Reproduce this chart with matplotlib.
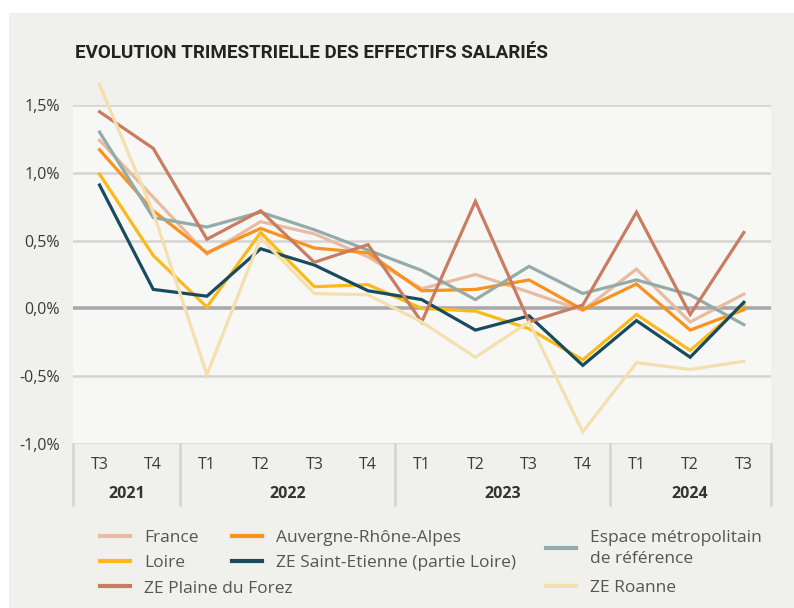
import matplotlib
matplotlib.use("Agg")
import matplotlib.pyplot as plt
from matplotlib.patches import Rectangle
from matplotlib.lines import Line2D

quarters = ["T3", "T4", "T1", "T2", "T3", "T4", "T1", "T2", "T3", "T4", "T1", "T2", "T3"]
years = ["2021", "2022", "2023", "2024"]
year_spans = [(0, 1), (2, 5), (6, 9), (10, 12)]

france = [1.24, 0.82, 0.40, 0.64, 0.55, 0.38, 0.145, 0.25, 0.12, -0.015, 0.29, -0.10, 0.105]
ara = [1.17, 0.72, 0.41, 0.59, 0.445, 0.41, 0.13, 0.14, 0.21, -0.01, 0.18, -0.16, -0.01]
espace = [1.30, 0.67, 0.60, 0.71, 0.58, 0.43, 0.28, 0.065, 0.31, 0.11, 0.21, 0.10, -0.12]
loire = [0.99, 0.39, 0.01, 0.56, 0.16, 0.175, 0.0, -0.02, -0.15, -0.38, -0.045, -0.31, 0.03]
ze_se = [0.91, 0.14, 0.09, 0.44, 0.32, 0.13, 0.065, -0.16, -0.055, -0.42, -0.09, -0.36, 0.045]
plaine = [1.45, 1.18, 0.51, 0.72, 0.34, 0.47, -0.10, 0.79, -0.10, 0.025, 0.71, -0.045, 0.56]
roanne = [1.65, 0.71, -0.49, 0.52, 0.11, 0.10, -0.10, -0.36, -0.10, -0.91, -0.40, -0.45, -0.39]

series = [
    ("France", france, "#E9BBA2"),
    ("Auvergne-Rhône-Alpes", ara, "#F7931E"),
    ("Espace métropolitain\nde référence", espace, "#93ACAA"),
    ("Loire", loire, "#FBBA1A"),
    ("ZE Saint-Etienne (partie Loire)", ze_se, "#184B5E"),
    ("ZE Plaine du Forez", plaine, "#C97C5F"),
    ("ZE Roanne", roanne, "#F4E0AF"),
]

yticks = [-1.0, -0.5, 0.0, 0.5, 1.0, 1.5]

W, H = 794, 608
fig = plt.figure(figsize=(W / 100, H / 100), dpi=100)
fig.patch.set_facecolor("white")
fig.add_artist(Rectangle((9 / W, 0), 1 - 9 / W, 1 - 13 / H, transform=fig.transFigure,
                         facecolor="#F0F1ED", edgecolor="none", zorder=0))

fam = ["Open Sans", "DejaVu Sans"]
tfam = ["Roboto", "DejaVu Sans"]

left, right = 72.7 / W, 770.7 / W
top, bottom = 1 - 105 / H, 1 - 444 / H
ax = fig.add_axes([left, bottom, right - left, top - bottom])
ax.set_facecolor("#F7F7F5")
ax.set_xlim(-0.5, len(quarters) - 0.5)
ax.set_ylim(-1.0, 1.5)

for v in yticks:
    if v == 0:
        ax.axhline(v, color="#A9A9AB", lw=2.6, zorder=1)
    else:
        ax.axhline(v, color="#D4D4D2", lw=1.8, zorder=1)

x = list(range(len(quarters)))
for name, vals, col in series:
    ax.plot(x, vals, color=col, lw=2.3, solid_joinstyle="miter", zorder=3, label=name, clip_on=False)

for s in ax.spines.values():
    s.set_visible(False)
ax.set_xticks([])
ax.set_yticks(yticks)
ax.set_yticklabels([("%.1f%%" % v).replace(".", ",") for v in yticks], fontsize=11.5,
                   color="#3A3A3A", family=fam)
ax.tick_params(axis="y", length=0, pad=9)

# category table below axis
trans = ax.get_xaxis_transform()
sep_color = "#D4D4D2"
tab_bottom = -(505 - 444) / (444 - 105)
bounds = [-0.5, 1.5, 5.5, 9.5, 12.5]
for b in bounds:
    ax.plot([b, b], [0, tab_bottom], transform=trans, color=sep_color, lw=1.8, clip_on=False, zorder=2)
for i, q in enumerate(quarters):
    ax.text(i, -(465 - 444) / (444 - 105), q, transform=trans, ha="center", va="center",
            fontsize=11.5, color="#3A3A3A", family=fam)
for yr, (a, b) in zip(years, year_spans):
    ax.text((a + b) / 2, -(494 - 444) / (444 - 105), yr, transform=trans, ha="center", va="center",
            fontsize=11.5, color="#333333", family=fam, fontweight="bold")

fig.text(75 / W, 1 - 53 / H, "EVOLUTION TRIMESTRIELLE DES EFFECTIFS SALARIÉS", ha="left", va="center",
         fontsize=13.5, fontweight="bold", color="#222222", family=tfam)

handles = {name: Line2D([], [], color=col, lw=3) for name, _, col in series}
names = [s[0] for s in series]
cols = [
    ([names[0], names[3], names[5]], 100, 0.52),
    ([names[1], names[4]], 232, 0.52),
    ([names[2], names[6]], 546, 0.75),
]
for labels, xpx, lsp in cols:
    leg = fig.legend([handles[n] for n in labels], labels, loc="upper left",
                     bbox_to_anchor=(xpx / W, 1 - 530 / H), frameon=False,
                     prop={"family": fam, "size": 12.5}, handlelength=1.75, handletextpad=0.8,
                     labelspacing=lsp, borderpad=0, borderaxespad=0)
    for t in leg.get_texts():
        t.set_color("#555555")
        t.set_linespacing(1.4)

fig.savefig("out.png", dpi=100, facecolor=fig.get_facecolor())
